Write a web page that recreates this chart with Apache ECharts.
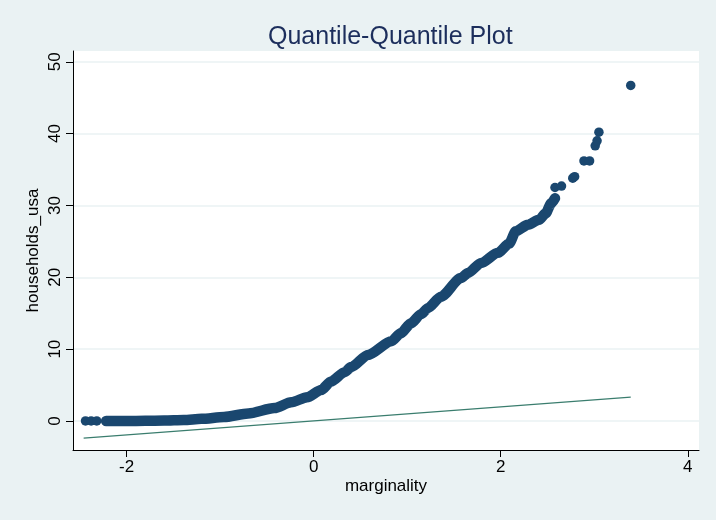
<!DOCTYPE html>
<html>
<head>
  <meta charset="UTF-8">
  <title>Quantile-Quantile Plot</title>
  <style>
    html, body { margin: 0; padding: 0; background: #EAF2F3; }
    #qq { width: 716px; height: 520px; }
  </style>
  <script src="https://cdn.jsdelivr.net/npm/echarts@6/dist/echarts.min.js"></script>
</head>
<body>
<div id="qq"></div>
<script>
  // dense part of the quantile band (marginality vs households_usa)
  var bandX = [-2.22, -2.0, -1.8, -1.6, -1.39, -1.2, -0.96, -0.7, -0.42, -0.24, -0.07, 0.08, 0.185, 0.33, 0.40, 0.58, 0.83, 0.93, 1.04, 1.15, 1.22, 1.36, 1.575, 1.65, 1.79, 1.97, 2.09, 2.16, 2.29, 2.41, 2.48, 2.54, 2.58];
  var bandY = [0, 0, 0.02, 0.06, 0.14, 0.3, 0.55, 1.05, 1.8, 2.6, 3.3, 4.3, 5.5, 6.8, 7.5, 9.2, 11.1, 12.2, 13.6, 14.9, 15.7, 17.3, 19.9, 20.6, 22.0, 23.4, 24.7, 26.4, 27.3, 28.0, 28.9, 30.3, 31.0];

  // separate points at both ends
  var tailX = [-2.44, -2.38, -2.32, 2.58, 2.65, 2.77, 2.79, 2.89, 2.95, 3.01, 3.03, 3.05, 3.39];
  var tailY = [0, 0, 0, 32.5, 32.7, 33.8, 34.0, 36.2, 36.2, 38.3, 39.0, 40.2, 46.7];

  // normal reference line
  var refX = [-2.46, 3.39];
  var refY = [-2.4, 3.32];

  var yTicks = [0, 10, 20, 30, 40, 50];
  var xTicks = [-2, 0, 2, 4];

  function pairs(xs, ys) {
    var out = [];
    for (var i = 0; i < xs.length; i++) out.push([xs[i], ys[i]]);
    return out;
  }

  var navy = '#1A476F';
  var font = 'Liberation Sans, Arial, sans-serif';

  var myChart = echarts.init(document.getElementById('qq'));
  var option = {
    backgroundColor: '#EAF2F3',
    animation: false,
    title: {
      text: 'Quantile-Quantile Plot',
      left: 263,
      top: 20,
      textStyle: { color: '#1C2E5C', fontSize: 25, fontWeight: 'normal', fontFamily: font }
    },
    grid: {
      left: 73, right: 17, top: 51, bottom: 70,
      show: true, backgroundColor: '#ffffff', borderWidth: 0,
      outerBoundsMode: 'none'
    },
    xAxis: {
      type: 'value',
      min: -2.574, max: 4.12,
      name: 'marginality',
      nameLocation: 'middle',
      nameGap: 28,
      nameMoveOverlap: false,
      nameTextStyle: { color: '#000', fontSize: 17, fontFamily: font },
      axisLine: { show: true, onZero: false, lineStyle: { color: '#000', width: 1 } },
      axisTick: { show: true, length: 7, customValues: xTicks, lineStyle: { color: '#000' } },
      axisLabel: { customValues: xTicks, color: '#000', fontSize: 17, margin: 9, fontFamily: font },
      splitLine: { show: false }
    },
    yAxis: {
      type: 'value',
      min: -4.04, max: 51.5,
      name: 'households_usa',
      nameLocation: 'middle',
      nameGap: 31,
      nameMoveOverlap: false,
      nameTextStyle: { color: '#000', fontSize: 17, fontFamily: font },
      axisLine: { show: true, onZero: false, lineStyle: { color: '#000', width: 1 } },
      axisTick: { show: true, length: 7, customValues: yTicks, lineStyle: { color: '#000' } },
      axisLabel: { customValues: yTicks, rotate: 90, color: '#000', fontSize: 17, margin: 9, fontFamily: font },
      splitLine: { show: true, lineStyle: { color: '#EAF2F3', width: 1.5 } }
    },
    series: [{
      name: 'reference',
      type: 'line',
      data: pairs(refX, refY),
      showSymbol: false,
      lineStyle: { color: '#3A7D6E', width: 1.3 },
      z: 2
    }, {
      name: 'band',
      type: 'line',
      data: pairs(bandX, bandY),
      showSymbol: false,
      smooth: 0.25,
      smoothMonotone: 'x',
      lineStyle: { color: navy, width: 10.5, cap: 'round', join: 'round' },
      z: 3
    }, {
      name: 'points',
      type: 'scatter',
      data: pairs(tailX, tailY),
      symbolSize: 9.5,
      itemStyle: { color: navy, opacity: 1 },
      z: 3
    }]
  };
  myChart.setOption(option);
</script>
</body>
</html>
